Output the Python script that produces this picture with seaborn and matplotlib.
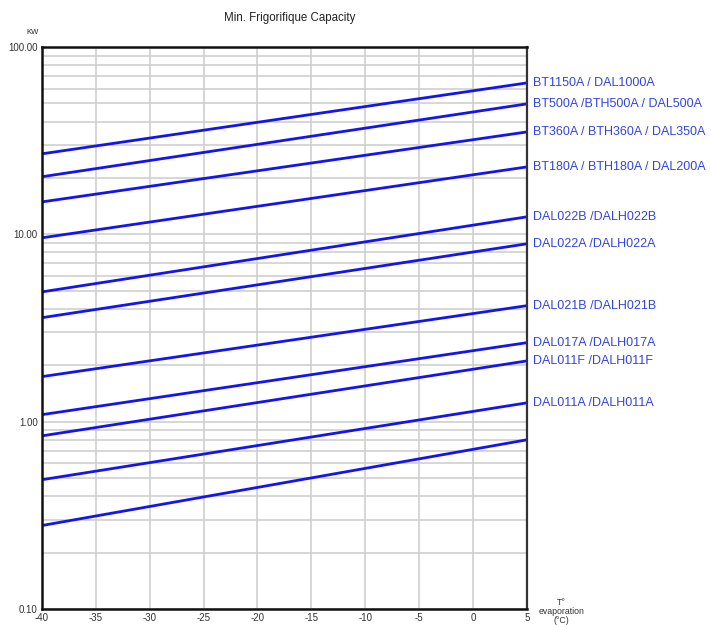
import numpy as np
import pandas as pd
import matplotlib
matplotlib.use("Agg")
import matplotlib.pyplot as plt
import seaborn as sns
from matplotlib.ticker import FixedLocator, LogLocator, NullFormatter

# ---- data ----
temps = [-40, 5]
labels = [
    "BT1150A / DAL1000A",
    "BT500A /BTH500A / DAL500A",
    "BT360A / BTH360A / DAL350A",
    "BT180A / BTH180A / DAL200A",
    "DAL022B /DALH022B",
    "DAL022A /DALH022A",
    "DAL021B /DALH021B",
    "DAL017A /DALH017A",
    "DAL011F /DALH011F",
    "DAL011A /DALH011A",
    "",
]
cap_start = [26.9, 20.3, 14.9, 9.58, 4.93, 3.59, 1.74, 1.09, 0.84, 0.49, 0.279]
cap_end = [64.3, 49.7, 35.2, 22.9, 12.4, 8.9, 4.16, 2.64, 2.11, 1.26, 0.80]
x_ticks = [-40, -35, -30, -25, -20, -15, -10, -5, 0, 5]
y_ticks = [0.1, 1.0, 10.0, 100.0]
y_ticklabels = ["0.10", "1.00", "10.00", "100.00"]

rows = []
for i, (a, b) in enumerate(zip(cap_start, cap_end)):
    rows.append({"series": i, "T": temps[0], "kW": a})
    rows.append({"series": i, "T": temps[1], "kW": b})
df = pd.DataFrame(rows)

sns.set_theme(style="white")
plt.rcParams['font.family'] = ['Liberation Sans', 'DejaVu Sans']

fig = plt.figure(figsize=(7.11, 6.25), dpi=100)
ax = fig.add_axes([0.059, 0.0256, 0.682, 0.8992])

blue = "#1414f0"
sns.lineplot(data=df, x="T", y="kW", hue="series", palette=[blue] * len(cap_start),
             legend=False, ax=ax, linewidth=2.0)

ax.set_yscale("log")
ax.set_ylim(0.1, 100)
ax.set_xlim(-40, 5)
ax.set_xticks(x_ticks)
ax.set_xticklabels([str(t) for t in x_ticks], fontsize=7, color="#333333")
ax.yaxis.set_major_locator(FixedLocator(y_ticks))
ax.set_yticklabels(y_ticklabels, fontsize=7, color="#333333")
ax.yaxis.set_minor_locator(LogLocator(base=10, subs=np.arange(2, 10)))
ax.yaxis.set_minor_formatter(NullFormatter())
ax.tick_params(axis="both", which="both", length=0, pad=3)

ax.grid(True, which="major", color="#cfcfcf", linewidth=1.2)
ax.grid(True, which="minor", axis="y", color="#cfcfcf", linewidth=1.2)
ax.set_axisbelow(True)

for side in ["left", "bottom", "top"]:
    ax.spines[side].set_color("#111111")
    ax.spines[side].set_linewidth(1.8)
ax.spines["right"].set_color("#333333")
ax.spines["right"].set_linewidth(1.6)
ax.spines["right"].set_linestyle((0, (6, 1)))

ax.set_xlabel("")
ax.set_ylabel("")

for lab, v in zip(labels, cap_end):
    if lab:
        ax.text(temps[-1] + 0.6, v, lab, color="#3344dd", fontsize=9,
                va="center", ha="left", clip_on=False)

fig.text(0.408, 0.972, "Min. Frigorifique Capacity", fontsize=8.3, color="#222222",
         ha="center", va="center")
fig.text(0.046, 0.948, "KW", fontsize=5.5, color="#222222", ha="center", va="center")
fig.text(0.790, 0.022, "T°\nevaporation\n(°C)", fontsize=6.3, color="#333333",
         ha="center", va="center", linespacing=1.0)

fig.savefig("out.png", dpi=100)
